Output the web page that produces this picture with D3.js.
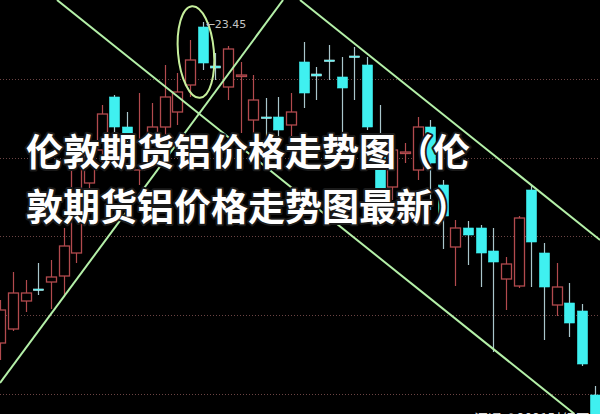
<!DOCTYPE html>
<html><head><meta charset="utf-8">
<script src="https://cdn.jsdelivr.net/npm/d3@7/dist/d3.min.js"></script>
<style>html,body{margin:0;padding:0;background:#000;overflow:hidden}svg{display:block}</style>
</head><body>
<svg id="chart" width="600" height="414"></svg>
<script>
// Candle data (index order), prices
const opens  = [17.03,17.31,17.87,18.11,18.25,18.37,18.83,20.23,20.89,21.95,21.35,20.49,20.89,21.35,21.65,22.19,23.35,22.57,22.15,22.37,21.49,21.55,21.55,21.39,22.65,22.41,22.69,22.35,22.77,22.59,20.89,20.15,20.83,20.49,21.35,20.19,18.95,19.33,19.33,18.87,18.31,18.17,20.09,18.83,17.79,17.83,17.67,15.99];
const highs  = [17.89,18.45,18.29,18.63,18.69,19.33,20.89,21.15,21.79,21.99,21.65,22.03,21.83,22.59,22.43,23.09,23.45,22.83,22.97,22.65,22.39,21.93,21.95,22.03,23.05,22.55,22.99,22.75,22.95,22.75,21.79,21.09,21.03,21.55,21.49,20.29,19.49,19.47,19.39,19.33,18.75,19.57,20.19,19.03,18.63,18.23,17.81,16.17];
const lows   = [16.69,17.27,17.65,17.99,17.71,17.95,18.63,19.89,20.59,21.25,20.89,20.19,20.59,20.99,21.39,21.95,22.49,22.29,21.89,21.23,21.23,20.99,21.09,21.09,21.73,21.89,22.29,21.23,21.89,21.29,19.79,19.89,20.63,20.29,19.69,18.91,18.17,18.59,18.15,16.85,17.69,18.13,18.15,17.09,17.57,17.15,16.57,15.39];
const closes = [17.69,18.03,18.03,18.09,18.35,18.97,20.59,20.89,21.61,21.35,21.09,21.05,21.35,21.95,22.05,22.69,22.63,22.53,22.91,22.39,21.89,21.53,21.29,21.65,22.03,22.37,22.67,22.13,22.75,21.35,19.99,20.89,20.85,21.35,20.63,19.57,19.33,19.19,18.83,18.65,18.61,19.53,19.05,18.15,18.15,17.43,16.61,15.49];
// Dotted grid price levels
const gridLevels = [22.31, 20.73, 19.17, 17.59, 16.01];
// Trend lines: [startIndex, startPrice, endIndex, endPrice]
const trendStartIdx   = [4.48, 23.70, -0.03];
const trendStartPrice = [23.89, 23.89, 16.23];
const trendEndIdx     = [45.42, 47.44, 22.36];
const trendEndPrice   = [15.61, 19.09, 23.89];
// Highlight ellipse around the peak (index, price, radius in index units, radius in price units)
const ellipseIdx = 15.47, ellipsePrice = 22.85, ellipseRIdx = 1.42, ellipseRPrice = 0.92;
const peakLabel = "23.45";
const titleLines = ["伦敦期货铝价格走势图（伦", "敦期货铝价格走势图最新）"];

const W = 600, H = 414;
const svg = d3.select("#chart");
svg.append("rect").attr("width", W).attr("height", H).attr("fill", "#000");

const x = d3.scaleLinear().domain([0, 47]).range([0.4, 594.5]);
const y = d3.scaleLinear().domain([15.61, 23.89]).range([H, 0]);
const bodyW = 10;

// grid
svg.append("g").selectAll("line").data(gridLevels).join("line")
  .attr("x1", 0).attr("x2", W)
  .attr("y1", d => Math.round(y(d)) + 0.5).attr("y2", d => Math.round(y(d)) + 0.5)
  .attr("stroke", "#6b4444").attr("stroke-width", 1).attr("stroke-dasharray", "1,2");

const candles = opens.map((o, i) => ({i, o, h: highs[i], l: lows[i], c: closes[i], up: closes[i] > o}));
const RED = "#b24a4e", CYAN = "#3ff0f0", CYANWICK = "#a9c6cc";

const g = svg.append("g");
// wicks
g.selectAll("line.wick").data(candles).join("line")
  .attr("class", "wick")
  .attr("x1", d => Math.round(x(d.i)) + 0.5).attr("x2", d => Math.round(x(d.i)) + 0.5)
  .attr("y1", d => y(d.h)).attr("y2", d => y(d.l))
  .attr("stroke", d => d.up ? RED : CYANWICK).attr("stroke-width", 1.2);
// bodies
g.selectAll("rect.body").data(candles).join("rect")
  .attr("class", "body")
  .attr("x", d => Math.round(x(d.i)) - bodyW / 2 + 0.5)
  .attr("width", bodyW)
  .attr("y", d => y(Math.max(d.o, d.c)))
  .attr("height", d => Math.max(1.5, Math.abs(y(d.o) - y(d.c))))
  .attr("fill", d => d.up ? "#000" : CYAN)
  .attr("stroke", d => d.up ? RED : (Math.abs(y(d.o) - y(d.c)) < 3 ? "#c8f4f4" : CYAN))
  .attr("stroke-width", d => d.up ? 1.3 : 0.6);

// trend lines
const trends = trendStartIdx.map((s, k) => ({x1: x(s), y1: y(trendStartPrice[k]), x2: x(trendEndIdx[k]), y2: y(trendEndPrice[k])}));
svg.append("g").selectAll("line").data(trends).join("line")
  .attr("x1", d => d.x1).attr("y1", d => d.y1).attr("x2", d => d.x2).attr("y2", d => d.y2)
  .attr("stroke", "#b4f0a8").attr("stroke-width", 2);

// ellipse
const ex = x(ellipseIdx), ey = y(ellipsePrice);
svg.append("ellipse")
  .attr("cx", ex).attr("cy", ey)
  .attr("rx", x(ellipseIdx + ellipseRIdx) - ex)
  .attr("ry", y(ellipsePrice - ellipseRPrice) - ey)
  .attr("transform", `rotate(-5 ${ex} ${ey})`)
  .attr("fill", "none").attr("stroke", "#c6ef9c").attr("stroke-width", 2);

// peak label
const peak = candles[d3.maxIndex(highs)];
svg.append("text")
  .attr("x", x(peak.i) + 3).attr("y", y(peak.h) + 6)
  .attr("font-family", "DejaVu Sans, sans-serif").attr("font-size", 11)
  .attr("fill", "#c4c4c4").text("←" + peakLabel);

// title
svg.append("g").selectAll("text").data(titleLines).join("text")
  .attr("x", 26).attr("y", (d, k) => 150 + k * 55)
  .attr("dominant-baseline", "central")
  .attr("font-family", "'Noto Sans CJK SC', sans-serif")
  .attr("font-weight", 700).attr("font-size", 37)
  .attr("fill", "#ffffff").attr("stroke", "#1a1a1a").attr("stroke-width", 4)
  .attr("paint-order", "stroke").attr("stroke-linejoin", "round")
  .text(d => d);

// watermark (cut off at bottom)
svg.append("text").attr("x", 474).attr("y", 424)
  .attr("font-family", "'Noto Sans CJK SC', sans-serif").attr("font-size", 14)
  .attr("fill", "#dddddd").text("汇通 ©2021财经网");
</script>
</body></html>
